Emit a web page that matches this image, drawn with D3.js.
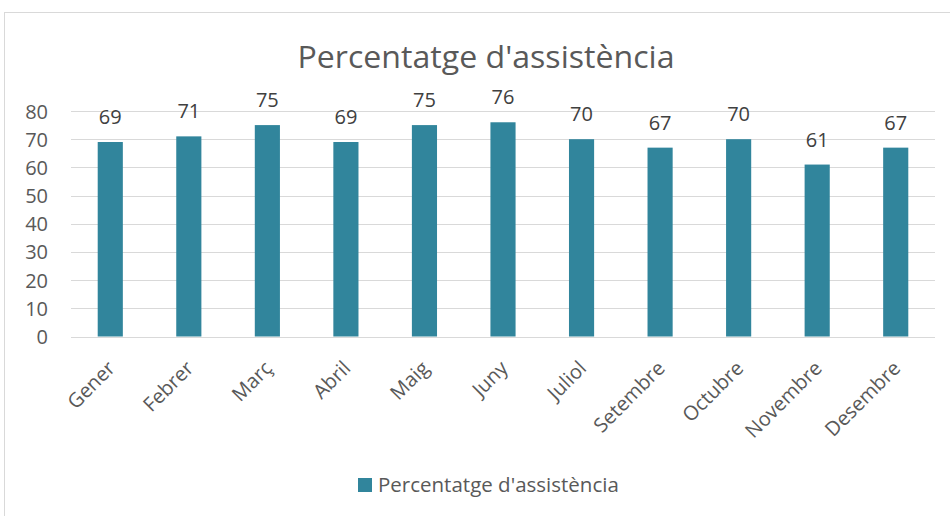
<!DOCTYPE html>
<html><head><meta charset="utf-8">
<script src="https://cdn.jsdelivr.net/npm/d3@7/dist/d3.min.js"></script>
<style>body{margin:0;background:#fff;}svg{display:block;}</style>
</head><body>
<script>
const categories = ["Gener","Febrer","Març","Abril","Maig","Juny","Juliol","Setembre","Octubre","Novembre","Desembre"];
const values = [69,71,75,69,75,76,70,67,70,61,67];
const yTicks = [0,10,20,30,40,50,60,70,80];
const seriesName = "Percentatge d'assistència";
const titleText = "Percentatge d'assistència";

const W = 950, H = 516;
const font = "'Open Sans', sans-serif";
const svg = d3.select("body").append("svg").attr("width", W).attr("height", H);
svg.append("rect").attr("x",4.5).attr("y",12.5).attr("width",W).attr("height",H)
  .attr("fill","#fff").attr("stroke","#d9d9d9");

const m = {left:71, right:935, top:111, bottom:336.5};
const x = d3.scaleBand().domain(categories).range([m.left, m.right]).paddingInner(0.68).paddingOuter(0.34);
const y = d3.scaleLinear().domain([0,80]).range([m.bottom, m.top]);

svg.append("text").attr("x", 486).attr("y", 68).attr("text-anchor","middle")
  .attr("font-family", font).attr("font-size", 31).attr("fill","#595959")
  .attr("textLength", 377).attr("lengthAdjust","spacingAndGlyphs").text(titleText);

// gridlines
svg.append("g").selectAll("line").data(yTicks).join("line")
  .attr("x1", m.left).attr("x2", m.right)
  .attr("y1", d=>Math.round(y(d))+0.5).attr("y2", d=>Math.round(y(d))+0.5)
  .attr("stroke","#d9d9d9").attr("stroke-width",1);

// y axis labels
const yAxis = d3.axisLeft(y).tickValues(yTicks).tickSize(0).tickPadding(0);
const ga = svg.append("g").attr("transform", `translate(${48},0)`).call(yAxis);
ga.select(".domain").remove();
ga.selectAll("text").attr("font-family", font).attr("font-size", 20).attr("fill","#595959")
  .attr("dy","0.35em");

// bars
svg.append("g").selectAll("rect").data(values).join("rect")
  .attr("x",(d,i)=>x(categories[i])).attr("width", x.bandwidth())
  .attr("y", d=>y(d)).attr("height", d=>y(0)-y(d)).attr("fill","#31859c");

// data labels
svg.append("g").selectAll("text").data(values).join("text")
  .attr("x",(d,i)=>x(categories[i])+x.bandwidth()/2).attr("y", d=>y(d)-18)
  .attr("text-anchor","middle").attr("font-family", font).attr("font-size", 20)
  .attr("fill","#404040").text(d=>d);

// x labels
const xAxis = d3.axisBottom(x).tickSize(0).tickPadding(0);
const gx = svg.append("g").attr("transform", `translate(0,${m.bottom})`).call(xAxis);
gx.select(".domain").remove();
gx.selectAll("text").attr("font-family", font).attr("font-size", 20).attr("fill","#595959")
  .attr("text-anchor","end").attr("dy",0)
  .attr("transform","translate(6,33) rotate(-45)");

// legend
svg.append("rect").attr("x",358).attr("y",478).attr("width",14).attr("height",14).attr("fill","#31859c");
svg.append("text").attr("x",378).attr("y",492).attr("font-family", font).attr("font-size", 20.5)
  .attr("fill","#595959").text(seriesName);
</script>
</body></html>
